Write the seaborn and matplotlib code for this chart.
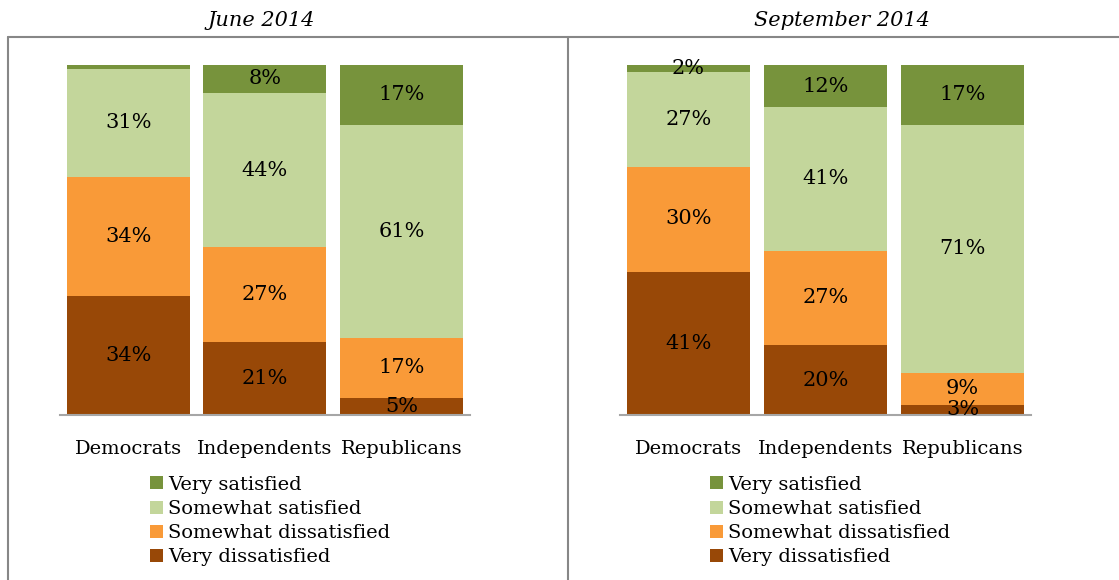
import matplotlib
matplotlib.use("Agg")
import matplotlib.pyplot as plt
import seaborn as sns
import pandas as pd
import numpy as np
from matplotlib.patches import Patch
from matplotlib.lines import Line2D

parties = ["Democrats", "Independents", "Republicans"]
levels = ["Very dissatisfied", "Somewhat dissatisfied", "Somewhat satisfied", "Very satisfied"]
colors = {"Very dissatisfied": "#984807", "Somewhat dissatisfied": "#F99A38",
          "Somewhat satisfied": "#C3D69B", "Very satisfied": "#77933C"}

june_very_dissatisfied = [34, 21, 5]
june_somewhat_dissatisfied = [34, 27, 17]
june_somewhat_satisfied = [31, 44, 61]
june_very_satisfied = [1, 8, 17]

sept_very_dissatisfied = [41, 20, 3]
sept_somewhat_dissatisfied = [30, 27, 9]
sept_somewhat_satisfied = [27, 41, 71]
sept_very_satisfied = [2, 12, 17]

titles = ["June 2014", "September 2014"]
panels = [
    [june_very_dissatisfied, june_somewhat_dissatisfied, june_somewhat_satisfied, june_very_satisfied],
    [sept_very_dissatisfied, sept_somewhat_dissatisfied, sept_somewhat_satisfied, sept_very_satisfied],
]

sns.set_style("white")
plt.rcParams["font.family"] = ["DejaVu Serif"]
plt.rcParams["text.color"] = "black"
plt.rcParams["xtick.labelcolor"] = "black"
FS = 14
FS_LBL = 15

W, H = 1119, 580
fig = plt.figure(figsize=(W / 100, H / 100), dpi=100)

def fx(px):
    return px / W

def fy(py):
    return 1 - py / H

axes_px = [(60, 470), (620, 1031)]
title_x = [261, 842]
legend_x = [150, 710]

for k in range(2):
    x0, x1 = axes_px[k]
    ax = fig.add_axes([fx(x0), fy(415), fx(x1 - x0), 350 / H])
    vals = panels[k]
    cum = np.cumsum(np.array(vals), axis=0)
    # draw from the top layer down so each lower cumulative bar covers the rest
    for li in range(3, -1, -1):
        df = pd.DataFrame({"party": parties, "cum": cum[li]})
        sns.barplot(data=df, x="party", y="cum", order=parties, color=colors[levels[li]],
                    saturation=1, width=0.9, linewidth=0, ax=ax, errorbar=None)
    for li in range(4):
        for i in range(3):
            v = vals[li][i]
            if v < 2:
                continue
            yc = cum[li][i] - v / 2
            ax.text(i, yc, f"{v}%", ha="center", va="center", fontsize=FS_LBL, color="black")
    ax.set_xlim(-0.5, 2.5)
    ax.set_ylim(0, 100)
    ax.set_yticks([])
    ax.set_xlabel("")
    ax.set_ylabel("")
    for s in ["top", "right", "left"]:
        ax.spines[s].set_visible(False)
    ax.spines["bottom"].set_color("#A6A6A6")
    ax.spines["bottom"].set_linewidth(1.5)
    ax.set_xticks(range(3))
    ax.set_xticklabels(parties, fontsize=FS, color="black")
    ax.tick_params(axis="x", which="major", length=0, pad=18)
    ax.set_xticks([-0.5, 0.5, 1.5, 2.5], minor=True)
    ax.tick_params(axis="x", which="minor", length=6, width=1.5, color="#A6A6A6", direction="out")
    fig.text(fx(title_x[k]), fy(21), titles[k], ha="center", va="center",
             fontsize=FS_LBL, style="italic", color="black")
    handles = [Patch(facecolor=colors[l], edgecolor="none") for l in levels[::-1]]
    leg = fig.legend(handles, levels[::-1], loc="center left",
                     bbox_to_anchor=(fx(legend_x[k]), fy(521)), frameon=False,
                     fontsize=FS, handlelength=0.65, handleheight=0.65, handletextpad=0.3,
                     labelspacing=0.32, borderpad=0, borderaxespad=0)
    for t in leg.get_texts():
        t.set_color("black")

line_c = "#878787"
fig.add_artist(Line2D([fx(8), 1], [fy(37), fy(37)], color=line_c, lw=1.5, transform=fig.transFigure))
fig.add_artist(Line2D([fx(8), fx(8)], [0, fy(37)], color=line_c, lw=1.5, transform=fig.transFigure))
fig.add_artist(Line2D([fx(568), fx(568)], [0, fy(37)], color=line_c, lw=1.5, transform=fig.transFigure))

fig.savefig("out.png", dpi=100)
